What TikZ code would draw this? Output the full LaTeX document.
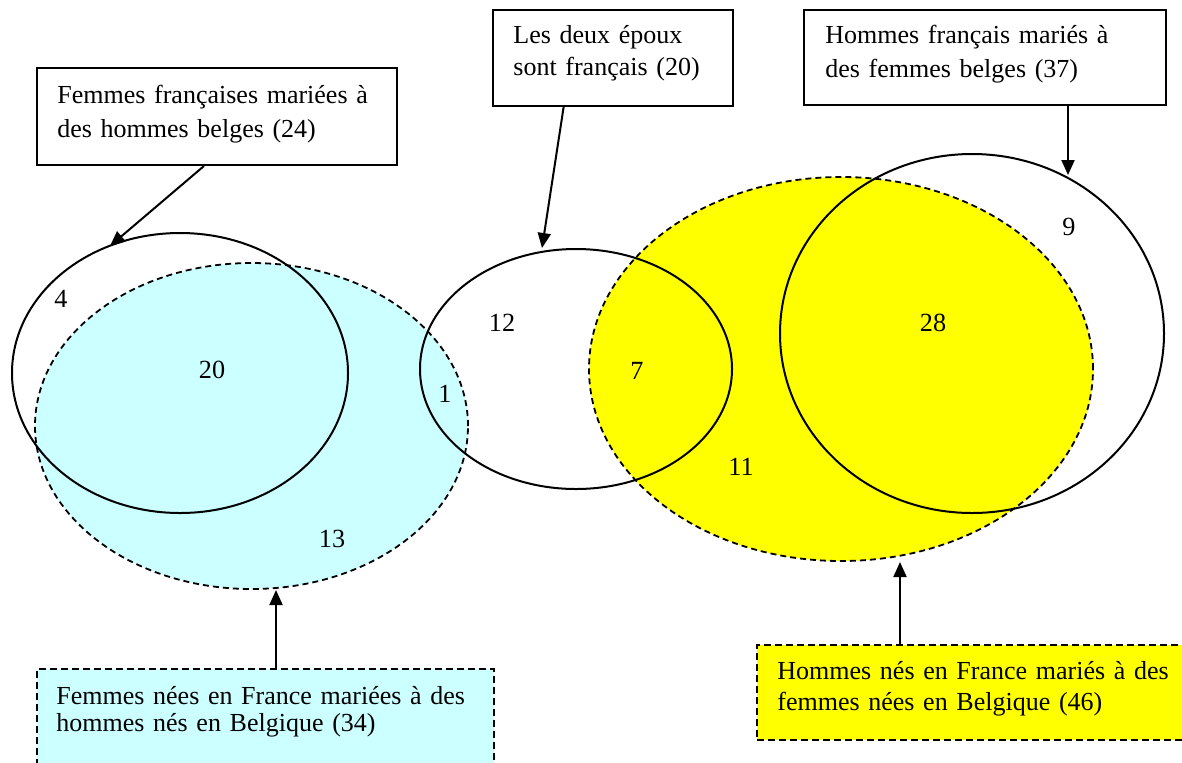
\documentclass[tikz,border=0pt]{standalone}
\usepackage{fontspec}
\setmainfont{Liberation Serif}
\usetikzlibrary{arrows.meta,calc}
\definecolor{cyanfill}{HTML}{CCFFFF}
\definecolor{yel}{HTML}{FFFF00}
\begin{document}
\begin{tikzpicture}[x=0.5pt,y=-0.5pt,
  ln/.style={line width=1pt},
  dsh/.style={line width=0.9pt, dash pattern=on 3pt off 2pt},
  arr/.style={line width=1pt,-{Triangle[length=7.5pt,width=6.5pt]}},
  box/.style={draw,line width=1pt,rectangle,inner sep=0pt,anchor=north west},
  dbox/.style={box,dash pattern=on 3.5pt off 2pt},
  txt/.style={anchor=base west,inner sep=0pt,align=left,text width=#1},
  num/.style={inner sep=0pt,font=\fontsize{13.1}{16}\selectfont},
]
\clip (0,0) rectangle (1182,762);
% fills
\fill[cyanfill] (251.5,426) ellipse [x radius=108.25pt, y radius=81.5pt];
\fill[yel] (841,369) ellipse [x radius=126pt, y radius=96pt];
% dashed outlines
\draw[dsh] (251.5,426) ellipse [x radius=108.25pt, y radius=81.5pt];
\draw[dsh] (841,369) ellipse [x radius=126pt, y radius=96pt];
% solid ellipses
\draw[ln] (180,373) ellipse [x radius=84pt, y radius=70pt];
\draw[ln] (576,369) ellipse [x radius=78pt, y radius=60pt];
\draw[ln] (972,333.5) ellipse [x radius=96pt, y radius=89.75pt];

% boxes
\node[box, minimum width=180pt, minimum height=48.5pt] (boxA) at (36,67) {};
\node[box, minimum width=120pt, minimum height=48pt] (boxB) at (492,9) {};
\node[box, minimum width=181pt, minimum height=47.5pt] (boxC) at (803,9) {};
\node[dbox, fill=cyanfill, minimum width=228.5pt, minimum height=70pt] (boxD) at (36,668) {};
\node[dbox, fill=yel, minimum width=230pt, minimum height=47.5pt] (boxE) at (756,644) {};

% texts
\node[txt=165pt, font=\fontsize{13}{17}\selectfont] (tA) at (57,103) {Femmes françaises mariées à\\des hommes belges (24)};
\node[txt=105pt, font=\fontsize{13}{16}\selectfont] (tB) at (513,43) {Les deux époux\\sont français (20)};
\node[txt=165pt, font=\fontsize{13}{17}\selectfont] (tC) at (825,43) {Hommes français mariés à\\des femmes belges (37)};
\node[txt=215pt, font=\fontsize{13}{13.75}\selectfont] (tD) at (56,704) {Femmes nées en France mariées à des\\hommes nés en Belgique (34)};
\node[txt=215pt, font=\fontsize{13}{15.5}\selectfont] (tE) at (777,679) {Hommes nés en France mariés à des\\femmes nées en Belgique (46)};

% arrow tips
\coordinate (tipA) at (110,246);
\coordinate (tipB) at (542,248);
\coordinate (tipC) at (1068,175);
\coordinate (tipD) at (276,590);
\coordinate (tipE) at (900,562);

\draw[arr] ($(boxA.south west)!0.464!(boxA.south east)$) -- (tipA);
\draw[arr] ($(boxB.south west)!0.296!(boxB.south east)$) -- (tipB);
\draw[arr] (boxC.south -| tipC) -- (tipC);
\draw[arr] (boxD.north -| tipD) -- (tipD);
\draw[arr] (boxE.north -| tipE) -- (tipE);

% numbers
\node[num] (n4) at (61,299) {4};
\node[num] (n20) at (212,370) {20};
\node[num] (n1) at (445,394) {1};
\node[num] (n13) at (332,539) {13};
\node[num] (n12) at (502,323) {12};
\node[num] (n7) at (637,371) {7};
\node[num] (n11) at (741,467) {11};
\node[num] (n28) at (933,323) {28};
\node[num] (n9) at (1069,227) {9};
\end{tikzpicture}
\end{document}
